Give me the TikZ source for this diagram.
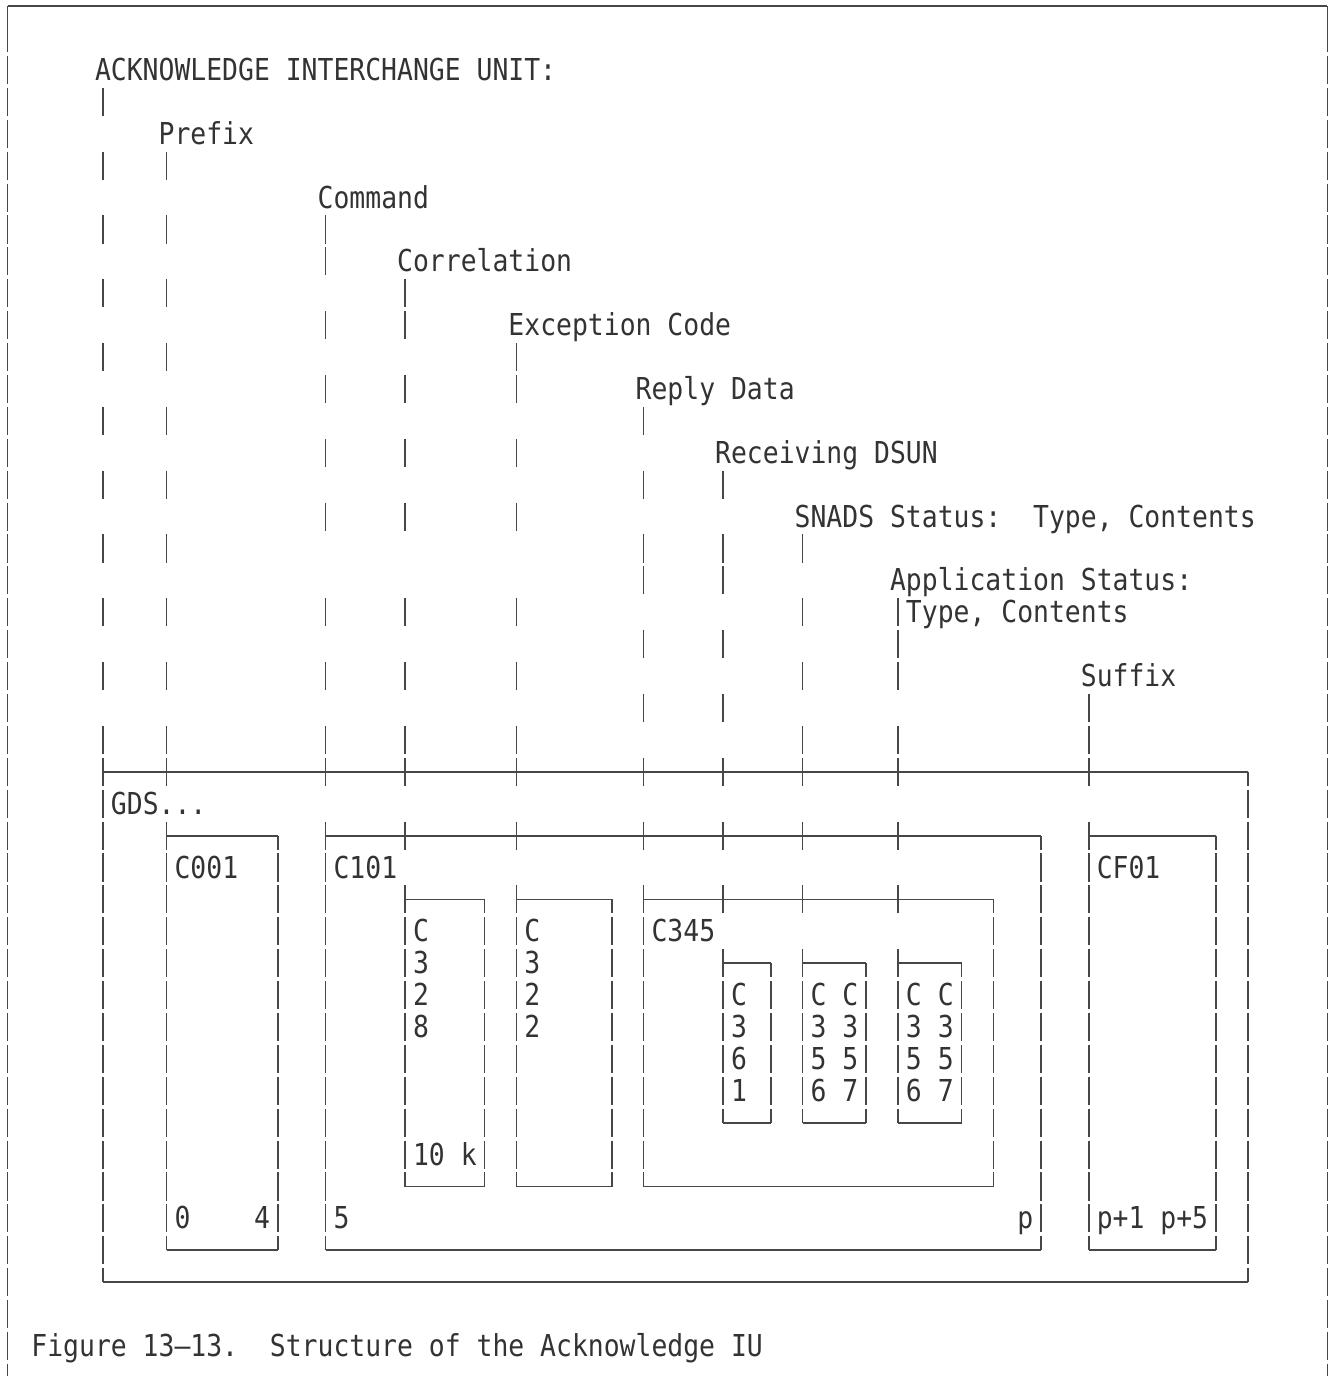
\documentclass[tikz,border=0pt]{standalone}
\usepackage{fontspec}
\newfontfamily\ibm[FakeStretch=0.8745]{DejaVu Sans Mono}
\frenchspacing
\definecolor{ink}{rgb}{0.2,0.2,0.2}
\definecolor{rule}{rgb}{0.28,0.28,0.28}
\tikzset{
  lbl/.style={anchor=base west, inner sep=0pt, outer sep=0pt, text=ink,
    font=\ibm\fontsize{15.1pt}{16pt}\selectfont},
  bar/.style={draw=rule, line width=0.75pt},
  hline/.style={draw=rule, line width=0.9pt},
}
% one text string, starting in column #1 of row #2
\newcommand{\txt}[4]{\node[lbl] (#3) at (#1-0.5,#2+0.33) {#4};}
% the | characters of column #1, in the rows #2
\newcommand{\bars}[2]{\foreach \rw in {#2}{\draw[bar] (#1,\rw-0.44) -- (#1,\rw+0.44);}}
% a box: name, left column, top row, right column, bottom row
\newcommand{\cbox}[5]{%
  \coordinate (#1-nw) at (#2,#3);
  \coordinate (#1-ne) at (#4,#3);
  \coordinate (#1-sw) at (#2,#5);
  \coordinate (#1-se) at (#4,#5);
  \draw[hline] (#1-nw) -- (#1-ne);
  \draw[hline] (#1-sw) -- (#1-se);
  \draw[bar] (#2,#3-0.44) -- (#1-nw) -- (#2,#3+0.44);
  \draw[bar] (#1-ne) -- (#4,#3+0.44);
  \draw[bar] (#2,#5-0.44) -- (#1-sw);
  \draw[bar] (#4,#5-0.44) -- (#1-se);
  \pgfmathtruncatemacro\rfrom{#3+1}%
  \pgfmathtruncatemacro\rto{#5-1}%
  \bars{#2}{\rfrom,...,\rto}%
  \bars{#4}{\rfrom,...,\rto}%
}

\begin{document}
\begin{tikzpicture}[x=7.95pt,y=-15.95pt]
\useasboundingbox (-6.478,-2.194) rectangle (77.17,40.94);

% page frame
\draw[hline] (-6,-2) -- (77,-2);
\draw[bar] (-6,-2) -- (-6,-0.56);
\draw[bar] (77,-2) -- (77,-0.56);
\bars{-6}{0,...,41}
\bars{77}{0,...,41}

% field names
\txt{0}{0}{ack}{ACKNOWLEDGE INTERCHANGE UNIT:}
\txt{4}{2}{prefix}{Prefix}
\txt{14}{4}{command}{Command}
\txt{19}{6}{correl}{Correlation}
\txt{26}{8}{except}{Exception Code}
\txt{34}{10}{reply}{Reply Data}
\txt{39}{12}{dsun}{Receiving DSUN}
\txt{44}{14}{snads}{SNADS Status:~~Type, Contents}
\txt{50}{16}{appstat}{Application Status:}
\txt{51}{17}{apptype}{Type, Contents}
\txt{62}{19}{suffix}{Suffix}

% leader lines down to the boxes
\bars{0}{1,3,...,21}
\bars{4}{3,5,7,9,11,13,15,17,19,21,22}
\bars{14}{5,6,8,10,12,14,17,19,21,22}
\bars{19}{7,8,10,12,14,17,19,21,22,24}
\bars{26}{9,10,12,14,17,19,21,22,24}
\bars{34}{11,13,15,16,18,20,22,24}
\bars{39}{13,15,16,18,20,22,24,26}
\bars{44}{15,17,19,21,22,24,26}
\bars{50}{17,18,19,21,22,24,26}
\bars{62}{20,21,22}

% boxes
\cbox{bgds}{0}{22}{72}{38}
\cbox{b001}{4}{24}{11}{37}
\cbox{b101}{14}{24}{59}{37}
\cbox{bf01}{62}{24}{70}{37}
\cbox{b328}{19}{26}{24}{35}
\cbox{b322}{26}{26}{32}{35}
\cbox{b345}{34}{26}{56}{35}
\cbox{b361}{39}{28}{42}{33}
\cbox{b3567a}{44}{28}{48}{33}
\cbox{b3567b}{50}{28}{54}{33}

% box contents
\txt{1}{23}{gds}{GDS...}
\txt{5}{25}{c001}{C001}
\txt{15}{25}{c101}{C101}
\txt{63}{25}{cf01}{CF01}
\txt{35}{27}{c345}{C345}
\foreach \ch [count=\k from 27] in {C,3,2,8} {\txt{20}{\k}{c328-\k}{\ch}}
\foreach \ch [count=\k from 27] in {C,3,2,2} {\txt{27}{\k}{c322-\k}{\ch}}
\foreach \ch [count=\k from 29] in {C,3,6,1} {\txt{40}{\k}{c361-\k}{\ch}}
\foreach \ch [count=\k from 29] in {C C,3 3,5 5,6 7} {\txt{45}{\k}{c356a-\k}{\ch}}
\foreach \ch [count=\k from 29] in {C C,3 3,5 5,6 7} {\txt{51}{\k}{c356b-\k}{\ch}}
\txt{20}{34}{len}{10 k}
\txt{5}{36}{off0}{0}
\txt{10}{36}{off4}{4}
\txt{15}{36}{off5}{5}
\txt{58}{36}{offp}{p}
\txt{63}{36}{offsfx}{p+1 p+5}

% caption
\txt{-4}{40}{caption}{Figure 13–13.~~Structure of the Acknowledge IU}
\end{tikzpicture}
\end{document}
